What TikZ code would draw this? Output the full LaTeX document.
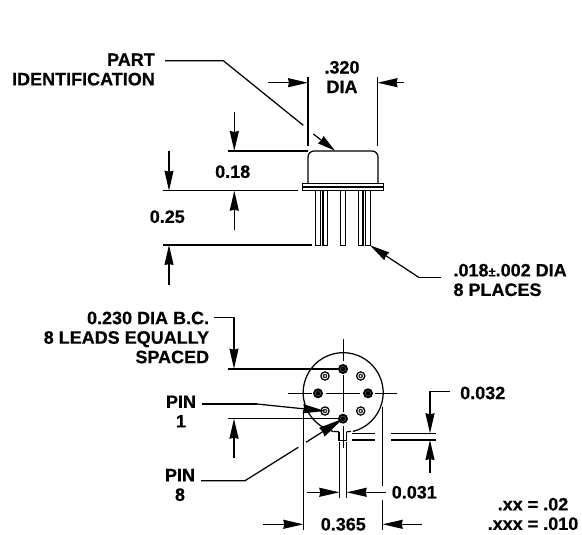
\documentclass[tikz,border=0pt]{standalone}
\usepackage{fontspec}
\setmainfont{Liberation Sans}
\newfontfamily\labfont[FakeBold=0.5]{Liberation Sans Bold}
\usetikzlibrary{arrows.meta}
\tikzset{
  ln/.style={line width=1.25pt,black},
  thin ln/.style={line width=1.05pt,black},
  dim/.style={ln,-{Stealth[length=20pt,width=9pt,inset=1pt]}},
  lab/.style={font=\fontsize{18}{19.5}\selectfont\labfont,inner sep=0pt,text=black},
}
\begin{document}
\begin{tikzpicture}[x=1pt,y=-1pt]
\useasboundingbox (0,0) rectangle (582,535);
\fill[white] (0,0) rectangle (582,535);
% --- side view
\draw[ln] (308,183.3) -- (308,157) to[out=90,in=180] (314,151) -- (372,151) to[out=0,in=90] (378,157) -- (378,183.3);
\draw[thin ln] (302.7,183.5) rectangle (383.3,190.7);
\draw[thin ln] (302.7,187) -- (383.3,187);
\foreach \a/\b in {315.7/320.3,323/327.7,340.5/345.3,358.3/363,365.7/370.3}
  \draw[thin ln] (\a,190.7) -- (\a,245.3) -- (\b,245.3) -- (\b,190.7);
% part identification
\draw[ln] (165,60.7) -- (223.3,60.7) -- (303.3,125.3);
\draw[ln,-{Stealth[length=18pt,width=9pt,inset=1pt]}] (313.3,134) -- (335,150.7);
% .320
\draw[ln] (308,76.7) -- (308,146);
\draw[ln] (377.5,76.7) -- (377.5,146);
\draw[dim] (268.3,82.7) -- (308,82.7);
\draw[dim] (404,82.7) -- (377.5,82.7);
% 0.18 and 0.25
\draw[ln] (228.3,151) -- (308,151);
\draw[ln] (163.3,190.7) -- (298.3,190.7);
\draw[ln] (163.3,245) -- (311.7,245);
\draw[dim] (234.3,111.7) -- (234.3,151);
\draw[dim] (234.3,230) -- (234.3,190.7);
\draw[dim] (169,151) -- (169,190.7);
\draw[dim] (169,285) -- (169,245);
% lead leader
\draw[ln] (441,277.7) -- (419.3,277.7);
\draw[ln,-{Stealth[length=20pt,width=9pt,inset=1pt]}] (419.3,277.7) -- (370,245.3);
% --- bottom view
\draw[ln] (339,431.7) -- (339,440.7) -- (346.7,440.7) -- (346.7,431.7);
\draw[ln] (333.5,431.5) -- (339,431.7);
\draw[ln] (346.7,431.7) -- (351,431.5);
\draw[ln] (333.5,431.5) arc[start angle=104,end angle=436,radius=40];
% centre lines
\draw[ln] (343.3,339.3) -- (343.3,361);
\draw[ln] (343.3,375) -- (343.3,412);
\draw[ln] (343.3,426) -- (343.3,448);
\draw[ln] (288.3,393.3) -- (311.7,393.3);
\draw[ln] (326,393.3) -- (360,393.3);
\draw[ln] (375,393.3) -- (397.3,393.3);
% pins
\foreach \x/\y in {343/369,318/393.3,368/393.3,343/418.7}{
  \fill[black] (\x,\y) circle[radius=5];
  \draw[black!60,line width=0.45pt] (\x,\y) circle[radius=2.7];
}
\foreach \x/\y in {325/376,360.7/376,325/411,360.7/411}{
  \fill[black] (\x,\y) circle[radius=4.8];
  \fill[white] (\x,\y) circle[radius=3.3];
  \fill[black!85] (\x,\y) circle[radius=2.3];
  \fill[white] (\x,\y) circle[radius=1];
}
% 0.230 leader
\draw[ln] (214.3,317.3) -- (234,317.3) -- (234,330);
\draw[dim] (234,330) -- (234,368.7);
\draw[ln] (228.3,369) -- (338.3,369);
\draw[ln] (228.3,418.7) -- (338.3,418.7);
\draw[dim] (234,458.3) -- (234,418.7);
% pin 1 leader
\draw[ln] (201.7,404) -- (256.7,404);
\draw[ln,-{Stealth[length=22pt,width=9pt,inset=1pt]}] (256.7,404) -- (325,411);
% pin 8 leader
\draw[ln] (201,480.7) -- (245,480.7) -- (298.3,447.3);
\draw[ln,-{Stealth[length=25pt,width=10pt,inset=1pt]}] (306,442.3) -- (343,418.7);
% extension lines
\draw[ln] (303.3,410) -- (303.3,530);
\draw[ln] (382.7,407.3) -- (382.7,486);
\draw[ln] (382.7,500) -- (382.7,530);
\draw[ln] (339.3,442) -- (339.3,498);
\draw[ln] (346.7,442) -- (346.7,498);
\draw[ln] (351.7,433.3) -- (375,433.3);
\draw[ln] (351.7,440) -- (375,440);
\draw[ln] (391,433.3) -- (436,433.3);
\draw[ln] (391,440) -- (436,440);
% 0.032
\draw[ln] (450,391.7) -- (430,391.7) -- (430,400);
\draw[dim] (430,400) -- (430,433.3);
\draw[dim] (430,473) -- (430,440);
% 0.031
\draw[dim] (307.3,492.3) -- (339.3,492.3);
\draw[dim] (385.5,492.3) -- (346.7,492.3);
% 0.365
\draw[dim] (263.3,524.3) -- (303.3,524.3);
\draw[dim] (421.7,524.3) -- (382.7,524.3);
% --- labels
\node[lab,align=right,anchor=east] (part) at (155,69.5) {PART\\IDENTIFICATION};
\node[lab,align=center] (dia) at (342,77) {.320\\DIA};
\node[lab] (d18) at (232.7,171.7) {0.18};
\node[lab] (d25) at (167.3,216.7) {0.25};
\node[lab,align=left,anchor=west] (lead) at (453.3,280) {.018{\fontsize{13}{13}\selectfont ±}.002 DIA\\8 PLACES};
\node[lab,align=right,anchor=east] (bc) at (209.3,337.5) {0.230 DIA B.C.\\8 LEADS EQUALLY\\SPACED};
\node[lab,align=center] (pinone) at (181,411.5) {PIN\\1};
\node[lab,align=center] (pineight) at (180,485) {PIN\\8};
\node[lab,anchor=west] (d32) at (460,393) {0.032};
\node[lab] (d31) at (414.3,492.3) {0.031};
\node[lab] (d365) at (343.3,524.3) {0.365};
\node[lab,align=center] (tol) at (533,514) {.xx = .02\\.xxx = .010};
\end{tikzpicture}
\end{document}
